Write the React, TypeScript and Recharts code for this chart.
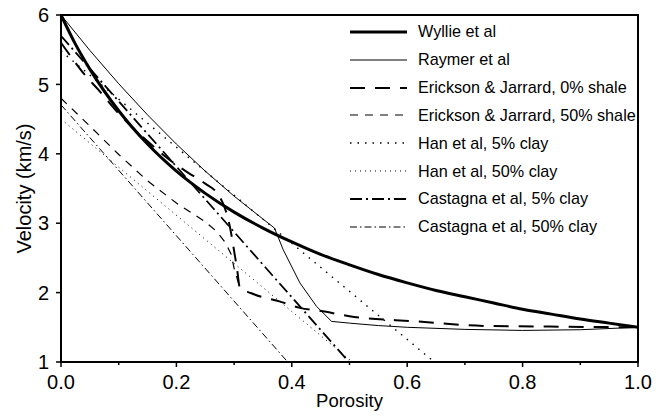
import React from 'react';
import { LineChart, Line, XAxis, YAxis, ReferenceArea, Legend } from 'recharts';

// porosity (fraction) vs velocity (km/s)
const wyllieX = [0, 0.025, 0.05, 0.1, 0.15, 0.2, 0.25, 0.3, 0.35, 0.4, 0.45, 0.5, 0.55, 0.6, 0.65, 0.7, 0.75, 0.8, 0.85, 0.9, 0.95, 1.0];
const wyllieV = [6.0, 5.58, 5.22, 4.62, 4.14, 3.75, 3.43, 3.16, 2.93, 2.73, 2.55, 2.4, 2.26, 2.14, 2.03, 1.94, 1.85, 1.76, 1.69, 1.62, 1.56, 1.5];

const raymerX = [0, 0.05, 0.1, 0.15, 0.2, 0.25, 0.3, 0.35, 0.37, 0.385, 0.414, 0.443, 0.469, 0.5, 0.55, 0.6, 0.7, 0.8, 0.9, 1.0];
const raymerV = [6.0, 5.49, 5.01, 4.56, 4.14, 3.75, 3.39, 3.06, 2.93, 2.62, 2.14, 1.8, 1.585, 1.56, 1.525, 1.5, 1.47, 1.455, 1.465, 1.5];

// shared low-velocity branch of the Erickson & Jarrard curves
const ejTailX = [0.33, 0.38, 0.414, 0.454, 0.5, 0.616, 0.732, 0.847, 1.0];
const ejTailV = [1.99, 1.87, 1.78, 1.73, 1.66, 1.585, 1.52, 1.51, 1.5];

const ej0X = [0, 0.02, 0.04, 0.065, 0.1, 0.15, 0.2, 0.22, 0.25, 0.27, 0.28, 0.29, 0.295, 0.3, 0.305, 0.31];
const ej0V = [5.6, 5.37, 5.15, 4.92, 4.58, 4.18, 3.84, 3.73, 3.57, 3.44, 3.3, 3.05, 2.85, 2.6, 2.35, 2.07];

const ej50X = [0, 0.05, 0.1, 0.15, 0.2, 0.25, 0.27, 0.285, 0.295, 0.3, 0.31];
const ej50V = [4.8, 4.4, 3.99, 3.61, 3.29, 3.02, 2.88, 2.72, 2.55, 2.35, 2.07];

const han5X = [0, 0.647];
const han5V = [5.48, 1.0];
const han50X = [0, 0.505];
const han50V = [4.5, 1.0];
const cas5X = [0, 0.499];
const cas5V = [5.7, 1.0];
const cas50X = [0, 0.393];
const cas50V = [4.705, 1.0];

const xTicks = [0, 0.1, 0.2, 0.3, 0.4, 0.5, 0.6, 0.7, 0.8, 0.9, 1.0];
const yTicks = [1, 2, 3, 4, 5, 6];

const zip = (xs: number[], vs: number[]) => xs.map((x, i) => ({ x, v: vs[i] }));

const series = [
  { name: 'Wyllie et al', data: zip(wyllieX, wyllieV), width: 3, dash: undefined, curve: 'monotone' },
  { name: 'Raymer et al', data: zip(raymerX, raymerV), width: 1, dash: undefined, curve: 'linear' },
  { name: 'Erickson & Jarrard, 0% shale', data: zip([...ej0X, ...ejTailX], [...ej0V, ...ejTailV]), width: 2, dash: '15 10', curve: 'monotone' },
  { name: 'Erickson & Jarrard, 50% shale', data: zip(ej50X, ej50V), width: 1.2, dash: '8 7', curve: 'linear' },
  { name: 'Han et al, 5% clay', data: zip(han5X, han5V), width: 1.4, dash: '1.5 6', curve: 'linear' },
  { name: 'Han et al, 50% clay', data: zip(han50X, han50V), width: 1, dash: '1 4', curve: 'linear' },
  { name: 'Castagna et al, 5% clay', data: zip(cas5X, cas5V), width: 1.8, dash: '12 4 2 4', curve: 'linear' },
  { name: 'Castagna et al, 50% clay', data: zip(cas50X, cas50V), width: 1, dash: '7 3 1.5 3', curve: 'linear' },
];

const FONT = '"Liberation Sans", Arial, Helvetica, sans-serif';

const XTick = (props: any) => {
  const { x, y, payload } = props;
  const v = payload.value;
  const major = Math.round(v * 10) % 2 === 0;
  return (
    <g>
      <line x1={x} x2={x} y1={y - 13} y2={y - 13 + (major ? 5 : 3)} stroke="#000" strokeWidth={1.5} />
      {major && (
        <text x={x} y={y} dy="0.71em" textAnchor="middle" fontSize={20} fill="#000" fontFamily={FONT}>
          {v.toFixed(1)}
        </text>
      )}
    </g>
  );
};

const LegendBox = () => (
  <div style={{ fontFamily: FONT, fontSize: 16.2, color: '#000' }}>
    {series.map(s => (
      <div key={s.name} style={{ height: 27.85, display: 'flex', alignItems: 'center' }}>
        <svg width={57} height={10} style={{ marginRight: 11 }}>
          <line x1={0} x2={57} y1={5} y2={5} stroke="#000" strokeWidth={s.width} strokeDasharray={s.dash} />
        </svg>
        <span style={{ whiteSpace: 'nowrap' }}>{s.name}</span>
      </div>
    ))}
  </div>
);

export default function App() {
  return (
    <div style={{ position: 'absolute', left: 0, top: 0, background: '#fff' }}>
      <LineChart width={663} height={416} margin={{ top: 15, right: 25, bottom: 0, left: 0 }} style={{ fontFamily: FONT }}>
        <ReferenceArea x1={0} x2={1} y1={1} y2={6} fill="none" stroke="#000" strokeWidth={2} />
        <XAxis
          type="number"
          dataKey="x"
          domain={[0, 1]}
          ticks={xTicks}
          height={54}
          axisLine={false}
          tickLine={false}
          tickSize={5}
          tickMargin={8}
          tick={<XTick />}
          interval={0}
          label={{
            content: ({ viewBox }: any) => (
              <text x={viewBox.x + viewBox.width / 2} y={viewBox.y + 45} textAnchor="middle" fontSize={18.5} fill="#000" fontFamily={FONT}>
                Porosity
              </text>
            ),
          }}
        />
        <YAxis
          type="number"
          domain={[1, 6]}
          ticks={yTicks}
          width={61}
          axisLine={false}
          tickSize={5}
          tickMargin={7}
          tickLine={{ stroke: '#000', strokeWidth: 1.5 }}
          tick={{ fontSize: 20, fill: '#000', fontFamily: FONT }}
          interval={0}
          label={{
            content: ({ viewBox }: any) => {
              const cx = 31;
              const cy = viewBox.y + viewBox.height / 2;
              return (
                <text x={cx} y={cy} transform={`rotate(-90 ${cx} ${cy})`} textAnchor="middle" fontSize={20} fill="#000" fontFamily={FONT}>
                  Velocity (km/s)
                </text>
              );
            },
          }}
        />
        {series.map(s => (
          <Line
            key={s.name}
            data={s.data}
            dataKey="v"
            name={s.name}
            type={s.curve as any}
            stroke="#000"
            strokeWidth={s.width}
            strokeDasharray={s.dash}
            dot={false}
            activeDot={false}
            isAnimationActive={false}
          />
        ))}
        <Legend
          layout="vertical"
          align="center"
          verticalAlign="middle"
          content={() => <LegendBox />}
          wrapperStyle={{ top: 18, left: 350, width: 310 }}
        />
      </LineChart>
    </div>
  );
}
